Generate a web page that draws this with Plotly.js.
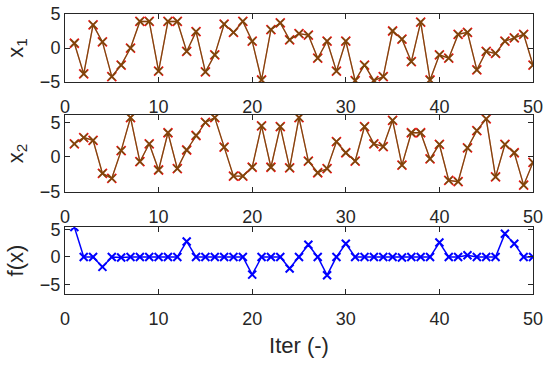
<!DOCTYPE html>
<html>
<head>
<meta charset="utf-8">
<script src="https://cdn.plot.ly/plotly-3.0.1.min.js"></script>
<style>html,body{margin:0;padding:0;background:#fff;}#plot{width:550px;height:366px;}</style>
</head>
<body>
<div id="plot"></div>
<script>
const iter = [1,2,3,4,5,6,7,8,9,10,11,12,13,14,15,16,17,18,19,20,21,22,23,24,25,26,27,28,29,30,31,32,33,34,35,36,37,38,39,40,41,42,43,44,45,46,47,48,49,50];
const x1 = [0.7,-3.8,3.4,0.9,-4.2,-2.5,0.0,3.9,3.9,-3.4,3.9,3.9,-0.5,2.4,-3.5,-1.0,3.5,2.3,3.9,1.0,-4.7,2.7,3.7,1.2,2.1,1.9,-1.5,1.0,-3.4,1.0,-4.8,-2.5,-4.8,-4.2,2.5,1.3,-2.0,3.8,-4.7,-1.0,-1.5,2.0,2.3,-3.2,-0.5,-0.8,1.0,1.5,2.0,-2.5];
const x2 = [1.9,2.8,2.4,-2.4,-3.1,0.9,5.7,-0.7,1.9,-1.9,3.5,-1.7,1.0,3.1,5.0,5.7,1.4,-2.8,-2.8,-1.5,4.5,-1.5,4.4,-1.6,5.7,-0.6,-2.3,-1.7,2.2,0.6,-0.6,4.4,1.9,1.5,5.3,-1.2,3.5,3.5,-0.3,1.8,-3.4,-3.6,1.3,3.8,5.5,-2.9,1.8,0.6,-4.1,-0.8];
const fx = [5.4,0,0,-1.8,0,-0.1,0,0,0,0,0,0,2.8,0,0,0,0,0,0,-3.2,0,0,0,-2.1,0,2.2,0,-3.3,0,2.4,0,0,0,0,0,-0.1,0,0,0,2.6,0,0,0.3,0,0,0,4.2,2.4,0,0];
const xTicks = [0,10,20,30,40,50];

const dark = '#262626';
const tickFont = {family: 'Liberation Sans, Arial, sans-serif', size: 18, color: dark};
const titleFont = {family: 'Liberation Sans, Arial, sans-serif', size: 22, color: dark};

function pair(y, xa, ya) {
  return [
    {x: iter, y: y, xaxis: xa, yaxis: ya, mode: 'lines+markers', type: 'scatter',
     line: {color: 'rgb(235,20,20)', width: 1.3},
     marker: {symbol: 'x-thin-open', size: 9, line: {color: 'rgb(235,20,20)', width: 1.8}},
     hoverinfo: 'skip', showlegend: false},
    {x: iter, y: y, xaxis: xa, yaxis: ya, mode: 'lines+markers', type: 'scatter',
     opacity: 0.45,
     line: {color: 'rgb(0,128,0)', width: 1.3},
     marker: {symbol: 'x-thin-open', size: 7, line: {color: 'rgb(0,128,0)', width: 1.8}},
     hoverinfo: 'skip', showlegend: false}
  ];
}

const data = [].concat(
  pair(x1, 'x', 'y'),
  pair(x2, 'x2', 'y2'),
  [{x: iter, y: fx, xaxis: 'x3', yaxis: 'y3', mode: 'lines+markers', type: 'scatter',
    line: {color: 'rgb(0,0,255)', width: 1.5},
    marker: {symbol: 'x-thin-open', size: 8, line: {color: 'rgb(0,0,255)', width: 2}},
    hoverinfo: 'skip', showlegend: false}]
);

function xax(anchor, title) {
  const a = {anchor: anchor, range: [0, 50], tickvals: xTicks, ticktext: xTicks.map(String),
    ticks: 'inside', ticklen: 5, tickcolor: dark, tickwidth: 1,
    showline: true, linecolor: dark, linewidth: 1, mirror: 'ticks',
    showgrid: false, zeroline: false, tickfont: tickFont, ticklabelstandoff: 8};
  if (title) a.title = {text: title, font: titleFont, standoff: 10};
  return a;
}
function yax(anchor, domain, range, title) {
  return {anchor: anchor, domain: domain, range: range, tickvals: [-5, 0, 5],
    ticks: 'inside', ticklen: 5, tickcolor: dark, tickwidth: 1,
    showline: true, linecolor: dark, linewidth: 1, mirror: 'ticks',
    showgrid: false, zeroline: false, tickfont: tickFont,
    title: {text: title, font: titleFont, standoff: 10}};
}

const layout = {
  width: 550, height: 366,
  margin: {l: 65, r: 17, t: 14, b: 72},
  paper_bgcolor: '#fff', plot_bgcolor: '#fff',
  xaxis: xax('y'),
  yaxis: yax('x', [0.757, 1], [-5, 5], 'x<sub>1</sub>'),
  xaxis2: xax('y2'),
  yaxis2: yax('x2', [0.364, 0.640], [-5.1, 6.1], 'x<sub>2</sub>'),
  xaxis3: xax('y3', 'Iter (-)'),
  yaxis3: yax('x3', [0, 0.239], [-6.7, 5.4], 'f(x)')
};

Plotly.newPlot('plot', data, layout, {staticPlot: true, displayModeBar: false});
</script>
</body>
</html>
